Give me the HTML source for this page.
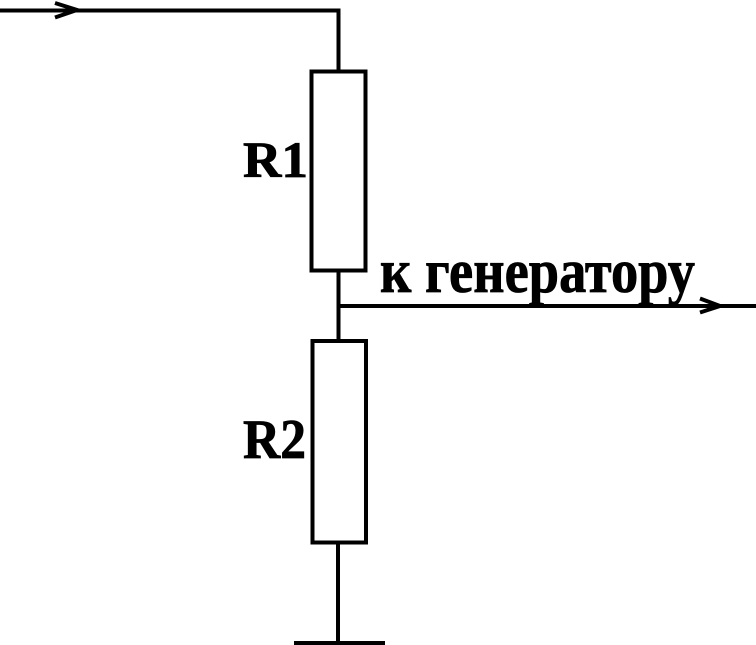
<!DOCTYPE html>
<html>
<head>
<meta charset="utf-8">
<style>
  html, body { margin: 0; padding: 0; background: #fff; }
  svg { display: block; }
</style>
</head>
<body>
<svg width="756" height="645" viewBox="0 0 756 645" xmlns="http://www.w3.org/2000/svg">
  <g stroke="#000" stroke-width="4" fill="none" stroke-linecap="butt">
    <polyline points="0,10.5 338.5,10.5 338.5,71" />
    <polyline points="55,3 77,10 55,17.5" stroke-linejoin="miter" />
    <rect x="311.5" y="71.5" width="54" height="199" />
    <line x1="338.5" y1="270" x2="338.5" y2="341" />
    <line x1="338.5" y1="306" x2="756" y2="306" />
    <polyline points="700,298.5 720,306 700,312.5" stroke-linejoin="miter" />
    <rect x="312.5" y="341" width="53.5" height="201.5" />
    <line x1="338" y1="542" x2="338" y2="643" />
    <line x1="294" y1="643" x2="385" y2="643" />
  </g>
  <g font-family="Liberation Serif, serif" font-weight="bold" fill="#000" stroke="#000" stroke-width="0.8">
    <text x="243" y="177" font-size="51" textLength="65" lengthAdjust="spacingAndGlyphs" style="font-family:'Liberation Serif',serif;font-weight:bold">R1</text>
    <text x="243" y="458" font-size="56" textLength="63" lengthAdjust="spacingAndGlyphs" style="font-family:'Liberation Serif',serif;font-weight:bold">R2</text>
    <text x="380" y="292" font-size="62" textLength="315" lengthAdjust="spacingAndGlyphs" style="font-family:'Liberation Serif',serif;font-weight:bold">к генератору</text>
  </g>
</svg>
</body>
</html>
